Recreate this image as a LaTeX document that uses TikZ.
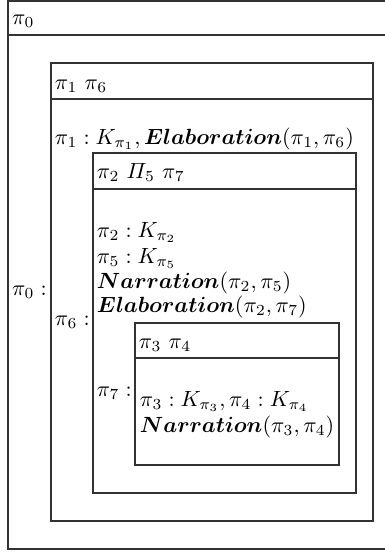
\documentclass[tikz,border=0pt]{standalone}
\usepackage{amsmath}
\tikzset{
  drsbox/.style={draw=black!80, line width=0.6pt},
  txt/.style={anchor=base west, inner sep=0pt, outer sep=0pt},
}
\begin{document}
\begin{tikzpicture}[x=0.4545pt,y=-0.4545pt]
\useasboundingbox (0,0) rectangle (385,552);
% boxes
\draw[drsbox] (8,1) rectangle (392,549);
\draw[drsbox] (8,35) -- (392,35);
\draw[drsbox] (51,63) rectangle (373,521);
\draw[drsbox] (51,99) -- (373,99);
\draw[drsbox] (93,153) rectangle (356,493);
\draw[drsbox] (93,189) -- (356,189);
\draw[drsbox] (135,323) rectangle (339,465);
\draw[drsbox] (135,358) -- (339,358);
% texts
\node[txt] (h0) at (12,24) {$\pi_0$};
\node[txt] (l0) at (12,295) {$\pi_0:$};
\node[txt] (h1) at (55,89) {$\pi_1$ $\pi_6$};
\node[txt] (c1) at (55,144) {$\pi_1: K_{\pi_1}, \boldsymbol{Elaboration}(\pi_1,\pi_6)$};
\node[txt] (l6) at (55,325) {$\pi_6:$};
\node[txt] (h2) at (97,178) {$\pi_2$ $\varPi_5$ $\pi_7$};
\node[txt] (c2a) at (97,237) {$\pi_2: K_{\pi_2}$};
\node[txt] (c2b) at (97,263) {$\pi_5: K_{\pi_5}$};
\node[txt] (c2c) at (97,288) {$\boldsymbol{Narration}(\pi_2,\pi_5)$};
\node[txt] (c2d) at (97,312) {$\boldsymbol{Elaboration}(\pi_2,\pi_7)$};
\node[txt] (h3) at (139,348) {$\pi_3$ $\pi_4$};
\node[txt] (l7) at (97,396) {$\pi_7:$};
\node[txt] (c3a) at (140,406) {$\pi_3: K_{\pi_3}, \pi_4: K_{\pi_4}$};
\node[txt] (c3b) at (140,432) {$\boldsymbol{Narration}(\pi_3,\pi_4)$};
\end{tikzpicture}
\end{document}
